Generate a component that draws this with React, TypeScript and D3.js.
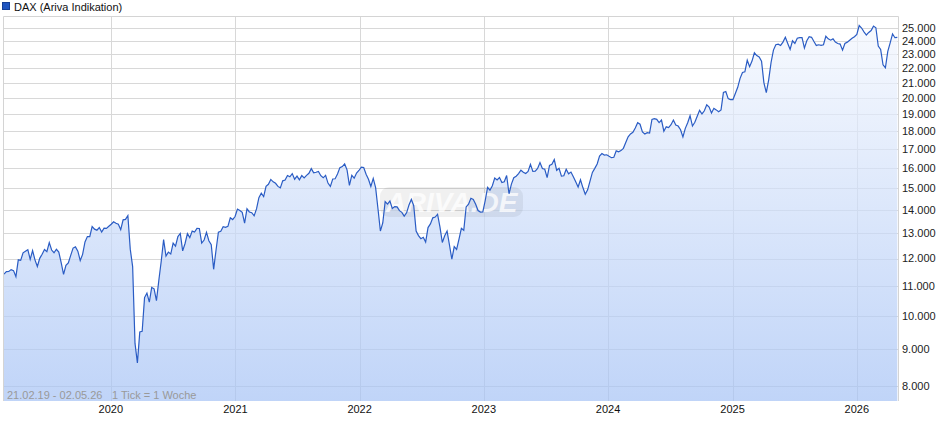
import React from "react";
import * as d3 from "d3";

// weekly values (Thursdays), first point 21.02.19
const firstWeek = "2019-02-21";
const lastDay = "2026-05-02";

const dax2019 = [
  11423, 11516, 11518, 11588, 11550, 11330, 11954, 11935, 12222, 12282,
  12345, 11974, 12310, 11952, 11702, 12010, 12169, 12355, 12271, 12630,
  12332, 12227, 12362, 12253, 11845, 11412, 11747, 11838, 12126, 12410,
  12457, 12288, 11925, 12164, 12655, 12872, 12867, 13289, 13180, 13137,
  13245, 13055, 13222, 13211, 13300,
];
const dax2020 = [
  13386, 13495, 13429, 13388, 13158, 13575, 13595, 13760, 12367, 11700,
  9161, 8610, 9500, 9520, 10600, 10750, 10450, 10950, 10900, 10500,
  11200, 11900, 12750, 12100, 12250, 12177, 12608, 12489, 12874, 13000,
  12300, 12592, 12993, 12830, 13096, 13057, 13209, 13208, 12607, 12730,
  13042, 12703, 12543, 11598, 12324, 13052, 13086, 13286, 13253, 13295,
  13667, 13587, 13719,
];
const dax2021 = [
  14050, 13989, 13907, 13433, 14061, 13920, 13887, 13750, 14056, 14569,
  14776, 14621, 15107, 15202, 15440, 15321, 15250, 15100, 15031, 15370,
  15406, 15633, 15571, 15727, 15450, 15603, 15420, 15629, 15514, 15640,
  15745, 15980, 15765, 15794, 15840, 15623, 15520, 15644, 15260, 15100,
  15463, 15472, 15705, 16029, 16083, 16221, 15917, 15150, 15639, 15500,
  15756, 15885,
];
const dax2022 = [
  16052, 16031, 15700, 15450, 15100, 15490, 15040, 14052, 13100, 13442,
  14388, 14273, 14415, 14078, 14163, 14150, 13979, 13902, 13739, 13882,
  14231, 14485, 14198, 13100, 12913, 12784, 12843, 12650, 13246, 13400,
  13662, 13695, 13820, 13271, 12630, 12904, 13100, 12531, 11976, 12470,
  12356, 12767, 13211, 13130, 14146, 14266, 14539, 14490, 14264, 13986,
  13914, 13925,
];
const dax2023 = [
  14436, 15058, 14920, 15132, 15509, 15412, 15534, 15286, 15327, 15633,
  14750, 15210, 15522, 15597, 15729, 15900, 15801, 15734, 15834, 16200,
  15842, 15853, 15990, 16290, 15988, 15946, 15528, 16141, 16204, 16450,
  15893, 15997, 15600, 15622, 15947, 15719, 15805, 15572, 15323, 15070,
  15425, 15045, 14731, 14935, 15353, 15787, 15994, 16215, 16629, 16766,
  16687, 16701,
];
const dax2024 = [
  16617, 16547, 16567, 16907, 16859, 16922, 17046, 17370, 17678, 17842,
  17942, 18180, 18492, 18403, 17954, 17837, 17917, 17896, 18686, 18738,
  18691, 18497, 18652, 18000, 18254, 18210, 18374, 18650, 18354, 18298,
  18083, 17680, 18166, 18494, 18912, 18300, 18518, 18873, 19238, 19015,
  19210, 19583, 19443, 19078, 19362, 19264, 19146, 19262, 20359, 20426,
  19970, 19900,
];
const dax2025 = [
  19900, 20300, 20700, 21300, 21700, 21750, 22560, 22100, 22500, 23100,
  22900, 22800, 22500, 21000, 20350, 21200, 22400, 23300, 23700, 23750,
  23650, 23900, 24270, 23800, 23350, 24000, 23800, 24200, 24250, 24250,
  23450, 24000, 24320, 24270, 23950, 23650, 23700, 23650, 23700, 24350,
  24150, 24050, 24150, 23900, 23800, 23750, 23300, 23800, 23900, 24050,
  24200, 24320,
];
const dax2026 = [
  24500, 25200, 25000, 24700, 24450, 24650, 24800, 25150, 25020, 23600,
  23350, 22240, 22030, 23210, 23840, 24530, 24240, 24270,
];

const yTickValues = [
  8000, 9000, 10000, 11000, 12000, 13000, 14000, 15000, 16000, 17000,
  18000, 19000, 20000, 21000, 22000, 23000, 24000, 25000,
];
const xTickYears = [2020, 2021, 2022, 2023, 2024, 2025, 2026];

const seriesName = "DAX (Ariva Indikation)";
const rangeLabel = "21.02.19 - 02.05.26";
const tickLabel = "1 Tick = 1 Woche";

const de = d3.formatLocale({
  decimal: ",",
  thousands: ".",
  grouping: [3],
  currency: ["", " €"],
});
const fmt = de.format(",");

export default function App() {
  const width = 940;
  const height = 435;
  const left = 3.5;
  const right = 898.5;
  const top = 16.5;
  const bottom = 401;
  const font = "'Liberation Sans', Arial, sans-serif";

  const parse = d3.utcParse("%Y-%m-%d");
  const start = parse(firstWeek) as Date;
  const end = parse(lastDay) as Date;

  const values = [
    ...dax2019,
    ...dax2020,
    ...dax2021,
    ...dax2022,
    ...dax2023,
    ...dax2024,
    ...dax2025,
    ...dax2026,
  ];
  const data = values.map((v, i) => ({
    date: d3.utcDay.offset(start, i * 7),
    value: v,
  }));

  const x = d3.scaleUtc().domain([start, end]).range([4, 898]);
  const y = d3.scaleLog().domain([8000, 25000]).range([386, 28]);

  const line = d3
    .line<{ date: Date; value: number }>()
    .x((d) => x(d.date))
    .y((d) => y(d.value));
  const area = d3
    .area<{ date: Date; value: number }>()
    .x((d) => x(d.date))
    .y0(bottom)
    .y1((d) => y(d.value));

  return (
    <div style={{ position: "absolute", left: 0, top: 0 }}>
      <svg width={width} height={height} style={{ display: "block" }}>
        <defs>
          <linearGradient
            id="fillGrad"
            gradientUnits="userSpaceOnUse"
            x1={0}
            x2={0}
            y1={top}
            y2={bottom}
          >
            <stop offset="0%" stopColor="#f5f8fe" stopOpacity={0.7} />
            <stop offset="100%" stopColor="#a5c2f5" stopOpacity={0.7} />
          </linearGradient>
        </defs>
        <rect x={0} y={0} width={width} height={height} fill="#fff" />

        {/* grid */}
        <g stroke="#d8d8d8" strokeWidth={1}>
          {yTickValues.map((t) => (
            <line
              key={`h-${t}`}
              x1={left}
              x2={right}
              y1={Math.round(y(t)) + 0.5}
              y2={Math.round(y(t)) + 0.5}
            />
          ))}
          {xTickYears.map((yr) => {
            const xx = Math.round(x(new Date(Date.UTC(yr, 0, 1)))) + 0.5;
            return <line key={`v-${yr}`} x1={xx} x2={xx} y1={top} y2={bottom} />;
          })}
        </g>

        <path d={area(data) ?? ""} fill="url(#fillGrad)" />

        {/* watermark */}
        <g>
          <rect x={380} y={187} width={143} height={30} rx={9} fill="#000" opacity={0.06} />
          <text
            x={451.5}
            y={212}
            textAnchor="middle"
            fontFamily={font}
            fontStyle="italic"
            fontWeight="bold"
            fontSize={28}
            fill="#fff"
            opacity={0.75}
          >
            ARIVA.DE
          </text>
        </g>

        <path d={line(data) ?? ""} fill="none" stroke="#2a5cc4" strokeWidth={1.2} />

        {/* frame */}
        <g stroke="#d4d4d4" fill="none">
          <line x1={left} x2={left} y1={top} y2={bottom} />
          <line x1={right} x2={right} y1={top} y2={bottom} />
          <line x1={left} x2={right} y1={top} y2={top} />
        </g>

        {/* y labels */}
        {yTickValues.map((t) => (
          <text
            key={`yl-${t}`}
            x={902}
            y={y(t)}
            dy="0.35em"
            fontFamily={font}
            fontSize={11}
            fill="#222"
          >
            {fmt(t)}
          </text>
        ))}

        {/* x labels */}
        {xTickYears.map((yr) => (
          <text
            key={`xl-${yr}`}
            x={x(new Date(Date.UTC(yr, 0, 1)))}
            y={413}
            textAnchor="middle"
            fontFamily={font}
            fontSize={11}
            fill="#111"
          >
            {yr}
          </text>
        ))}

        {/* info */}
        <text x={7} y={399} fontFamily={font} fontSize={11} fill="#999">
          {rangeLabel}
        </text>
        <text x={112} y={399} fontFamily={font} fontSize={11} fill="#999">
          {tickLabel}
        </text>

        {/* legend */}
        <rect x={2.5} y={2.5} width={7} height={7} fill="#1f55c0" stroke="#153f96" />
        <text x={14} y={10.5} fontFamily={font} fontSize={11} fill="#111">
          {seriesName}
        </text>
      </svg>
    </div>
  );
}
